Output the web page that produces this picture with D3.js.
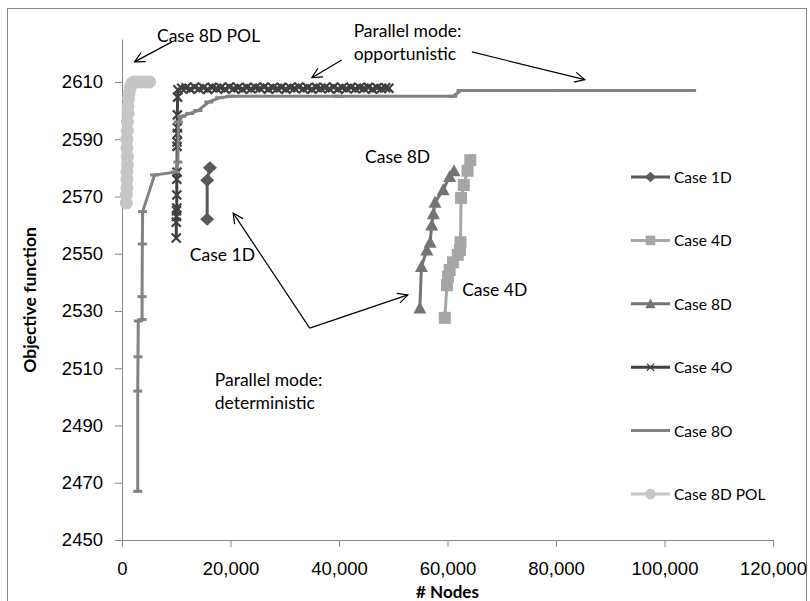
<!DOCTYPE html>
<html>
<head>
<meta charset="utf-8">
<script src="https://cdn.jsdelivr.net/npm/d3@7"></script>
<style>
  body { margin: 0; background: #fff; }
  svg { display: block; font-family: Lato, "Liberation Sans", sans-serif; }
</style>
</head>
<body>
<div id="chart"></div>
<script>
// ---- data: # nodes and objective value per point ----
const case1dNodes = [15700, 15700, 16200];
const case1dValues = [2562, 2575.7, 2580];

const case4dNodes = [59500, 59900, 60100, 60400, 61000, 61900, 62300, 62400, 62500, 63000, 63700, 64200];
const case4dValues = [2527.6, 2539, 2542, 2544.3, 2547, 2549.6, 2551.3, 2554, 2569.5, 2574, 2579, 2582.7];

const case8dNodes = [54900, 55200, 56200, 56800, 57100, 57400, 57700, 59200, 60400, 61200];
const case8dValues = [2531, 2545.5, 2551.3, 2554, 2560, 2564, 2568, 2572.3, 2577, 2579];

const case4oNodes = [10000, 10000, 10050, 10050, 10100, 10100, 10100, 10150, 10150, 10150, 10200, 10200, 10200, 10250,
  10300, 11000, 11800, 12600, 13400, 14200, 15000, 15800, 16600, 17400, 18200, 19000, 19800, 20600, 21400, 22200,
  23000, 23800, 24600, 25400, 26200, 27000, 27800, 28600, 29400, 30200, 31000, 31800, 32600, 33400, 34200, 35000,
  35800, 36600, 37400, 38200, 39000, 39800, 40600, 41400, 42200, 43000, 43800, 44600, 45400, 46200, 47000, 47800, 48600, 49200];
const case4oValues = [2555.5, 2561, 2563, 2565, 2566, 2570.5, 2576, 2578.5, 2587.5, 2589, 2592, 2594, 2598.5, 2604.7,
  2607.3, 2607.8, 2608, 2607.5, 2608.2, 2607.6, 2608, 2607.4, 2608.1, 2607.8, 2608, 2607.5, 2608.2, 2607.7, 2608, 2607.5,
  2608.1, 2607.6, 2608, 2607.8, 2608.2, 2607.5, 2608, 2607.7, 2608.1, 2607.5, 2608, 2607.8, 2608.2, 2607.6, 2608, 2607.5,
  2608.1, 2607.8, 2608, 2607.6, 2608.2, 2607.5, 2608, 2607.7, 2608.1, 2607.6, 2608, 2607.8, 2608.1, 2607.5, 2608, 2607.7, 2608, 2607.8];

const case8oNodes = [2900, 2900, 2950, 3000, 3700, 3700, 3750, 3800, 6000, 9800, 10300, 10400, 11000, 12500, 14000, 16000, 18000, 20000, 40000, 61000, 62500, 80000, 105000];
const case8oValues = [2467, 2502, 2514, 2526.5, 2527, 2535, 2553.4, 2564.7, 2577.5, 2578.5, 2582, 2596, 2598, 2599, 2600, 2603, 2604.5, 2605, 2605, 2605, 2607, 2607, 2607];

const case8dPolNodes = [800, 800, 900, 900, 900, 1000, 1000, 900, 900, 1000, 1000, 1100, 1100, 1200, 1300, 1500, 1800, 2200, 2800, 3500, 4300, 5100];
const case8dPolValues = [2567.7, 2570.5, 2573, 2576, 2578.5, 2581, 2584, 2587, 2590, 2593, 2596, 2599, 2601.5, 2604, 2606, 2608, 2609.5, 2610, 2610, 2610, 2610, 2610];

const seriesNames = ["Case 1D", "Case 4D", "Case 8D", "Case 4O", "Case 8O", "Case 8D POL"];

const xTicks = [0, 20000, 40000, 60000, 80000, 100000, 120000];
const yTicks = [2450, 2470, 2490, 2510, 2530, 2550, 2570, 2590, 2610];

// text annotations, placed in data units
const notes = [
  { lines: ["Case 8D POL"], nodes: 6450, value: 2626 },
  { lines: ["Parallel mode:", "opportunistic"], nodes: 42700, value: 2628 },
  { lines: ["Case 1D"], nodes: 12500, value: 2549.5 },
  { lines: ["Case 8D"], nodes: 44800, value: 2584 },
  { lines: ["Case 4D"], nodes: 62700, value: 2537.3 },
  { lines: ["Parallel mode:", "deterministic"], nodes: 17100, value: 2506 }
];
const arrows = [
  { from: [9200, 2624], to: [2300, 2617] },
  { from: [40500, 2617.7], to: [35000, 2611.5] },
  { from: [64500, 2620.5], to: [85300, 2610.8] },
  { from: [34600, 2524], to: [20500, 2564.2] },
  { from: [34600, 2524], to: [52700, 2535.6] }
];

function markerPath(type) {
  switch (type) {
    case "diamond": return "M0,-6.5L7,0L0,6.5L-7,0Z";
    case "square": return "M-6,-6H6V6H-6Z";
    case "triangle": return "M0,-6.5L6.5,5.5L-6.5,5.5Z";
    case "x": return "M-4.5,-4.5L4.5,4.5M-4.5,4.5L4.5,-4.5";
    case "dash": return "M-4.5,0H4.5";
    case "circle": return "M6.5,0A6.5,6.5 0 1,1 -6.5,0A6.5,6.5 0 1,1 6.5,0Z";
  }
}

function drawChart(container) {
  const width = 810, height = 601;

  const series = [
    { nodes: case1dNodes, values: case1dValues, color: "#595959", marker: "diamond" },
    { nodes: case4dNodes, values: case4dValues, color: "#a6a6a6", marker: "square" },
    { nodes: case8dNodes, values: case8dValues, color: "#747474", marker: "triangle" },
    { nodes: case4oNodes, values: case4oValues, color: "#404040", marker: "x" },
    { nodes: case8oNodes, values: case8oValues, color: "#828282", marker: "dash" },
    { nodes: case8dPolNodes, values: case8dPolValues, color: "#c6c6c6", marker: "circle" }
  ].map((s, i) => ({ ...s, name: seriesNames[i], points: s.nodes.map((n, j) => [n, s.values[j]]) }));

  const x = d3.scaleLinear().domain([0, 120000]).range([122, 773]);
  const y = d3.scaleLinear().domain([2450, 2625]).range([540, 39]);

  const svg = d3.select(container).append("svg")
      .attr("width", width)
      .attr("height", height)
      .attr("viewBox", [0, 0, width, height]);

  // outer chart border
  svg.append("rect")
      .attr("x", 7.5).attr("y", 8.5)
      .attr("width", 799).attr("height", 600)
      .attr("fill", "none")
      .attr("stroke", "#868686");

  const axisColor = "#868686";

  svg.append("g")
      .attr("transform", `translate(0,540)`)
      .call(d3.axisBottom(x).tickValues(xTicks).tickSize(7).tickSizeOuter(0).tickPadding(15).tickFormat(d3.format(",")))
      .call(g => g.selectAll("path,line").attr("stroke", axisColor))
      .call(g => g.selectAll("text").attr("fill", "#000").style("font-size", "18.5px"));

  svg.append("g")
      .attr("transform", `translate(122,0)`)
      .call(d3.axisLeft(y).tickValues(yTicks).tickSize(7).tickSizeOuter(0).tickPadding(12).tickFormat(d3.format("d")))
      .call(g => g.selectAll("path,line").attr("stroke", axisColor))
      .call(g => g.selectAll("text").attr("fill", "#000").style("font-size", "18.5px"));

  // axis titles
  svg.append("text")
      .attr("x", (122 + 773) / 2).attr("y", 591)
      .attr("text-anchor", "middle").attr("dominant-baseline", "central")
      .style("font-size", "17px").style("font-weight", "bold")
      .text("# Nodes");

  svg.append("text")
      .attr("transform", "translate(29,300) rotate(-90)")
      .attr("text-anchor", "middle").attr("dominant-baseline", "central")
      .style("font-size", "17.5px").style("font-weight", "bold")
      .text("Objective function");

  const line = d3.line().x(d => x(d[0])).y(d => y(d[1]));

  const groups = svg.append("g")
    .selectAll("g")
    .data(series)
    .join("g");

  groups.append("path")
      .attr("fill", "none")
      .attr("stroke", d => d.color)
      .attr("stroke-width", 3)
      .attr("stroke-linejoin", "round")
      .attr("d", d => line(d.points));

  groups.selectAll(".mk")
    .data(d => d.points.map(p => ({ p, s: d })))
    .join("path")
      .attr("class", "mk")
      .attr("transform", d => `translate(${x(d.p[0])},${y(d.p[1])})`)
      .attr("d", d => markerPath(d.s.marker))
      .attr("fill", d => (d.s.marker === "x" || d.s.marker === "dash") ? "none" : d.s.color)
      .attr("stroke", d => d.s.color)
      .attr("stroke-width", d => d.s.marker === "dash" ? 3 : d.s.marker === "x" ? 2.2 : 0);

  // legend
  const legend = svg.append("g")
    .selectAll("g")
    .data(series)
    .join("g")
      .attr("transform", (d, i) => `translate(631,${177 + i * 63.4})`);

  legend.append("line")
      .attr("x1", 0).attr("x2", 39)
      .attr("stroke", d => d.color)
      .attr("stroke-width", 3);

  legend.append("path")
      .attr("transform", "translate(19.5,0) scale(0.8)")
      .attr("d", d => markerPath(d.marker))
      .attr("fill", d => (d.marker === "x" || d.marker === "dash") ? "none" : d.color)
      .attr("stroke", d => d.color)
      .attr("stroke-width", d => d.marker === "dash" ? 3 : d.marker === "x" ? 1.6 : 0);

  legend.append("text")
      .attr("x", 43)
      .attr("dominant-baseline", "central")
      .style("font-size", "15.5px")
      .text(d => d.name);

  // annotations
  svg.append("defs").append("marker")
      .attr("id", "head")
      .attr("viewBox", "0 0 12 12")
      .attr("refX", 11).attr("refY", 6)
      .attr("markerWidth", 12).attr("markerHeight", 12)
      .attr("markerUnits", "userSpaceOnUse")
      .attr("orient", "auto")
    .append("path")
      .attr("d", "M1,1L11,6L1,11")
      .attr("fill", "none")
      .attr("stroke", "#000")
      .attr("stroke-width", 1.2);

  svg.append("g")
    .selectAll("line")
    .data(arrows)
    .join("line")
      .attr("x1", d => x(d.from[0])).attr("y1", d => y(d.from[1]))
      .attr("x2", d => x(d.to[0])).attr("y2", d => y(d.to[1]))
      .attr("stroke", "#000")
      .attr("stroke-width", 1.2)
      .attr("marker-end", "url(#head)");

  svg.append("g")
    .selectAll("text")
    .data(notes)
    .join("text")
      .attr("x", d => x(d.nodes))
      .attr("y", d => y(d.value))
      .style("font-size", "17.5px")
    .selectAll("tspan")
    .data(d => d.lines.map((t, i) => ({ t, i, d })))
    .join("tspan")
      .attr("x", d => x(d.d.nodes))
      .attr("dy", d => d.i === 0 ? "0.35em" : "1.35em")
      .text(d => d.t);
}

drawChart("#chart");
</script>
</body>
</html>
